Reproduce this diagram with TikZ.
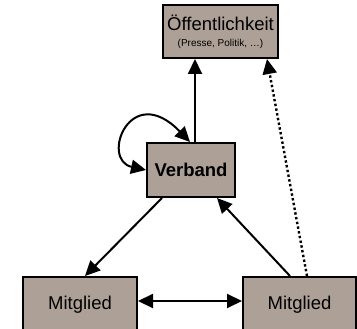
\documentclass[tikz,border=0pt]{standalone}
\usepackage{fontspec}
\setmainfont{Liberation Sans}
\usetikzlibrary{arrows.meta}
\definecolor{boxfill}{RGB}{173,160,150}
\tikzset{
  box/.style={draw=black, line width=2pt, fill=boxfill, inner sep=0pt, align=center, font=\fontsize{18.5}{20}\selectfont},
  tip/.style={Triangle[length=15pt,width=14pt]},
  conn/.style={line width=2pt, -{Triangle[length=15pt,width=14pt]}},
  dconn/.style={line width=2pt, {Triangle[length=15pt,width=14pt]}-{Triangle[length=15pt,width=14pt]}},
  dotconn/.style={line width=2.4pt, dash pattern=on 2.4pt off 2.4pt, -{Triangle[length=15pt,width=14pt]}}
}
\begin{document}
\begin{tikzpicture}[x=1pt,y=-1pt]
\useasboundingbox (0,0) rectangle (357,329);
\begin{scope}
\clip (0,0) rectangle (357,329);
\node[box, minimum width=115pt, minimum height=53pt] (oef) at (220.5,31.5) {Öffentlichkeit\\[-4pt]{\fontsize{10}{12}\selectfont (Presse, Politik, …)}};
\node[box, minimum width=88pt, minimum height=54pt, font=\fontsize{18.5}{20}\selectfont\bfseries] (verb) at (191,170) {Verband};
\node[box, minimum width=114pt, minimum height=56pt] (lm) at (80,305) {Mitglied};
\node[box, minimum width=113pt, minimum height=56pt] (rm) at (299.5,305) {Mitglied};
\draw[conn] ([xshift=4pt]verb.north) -- ([xshift=-25.5pt]oef.south);
\draw[dotconn] ([xshift=7.5pt]rm.north) -- ([xshift=46.5pt]oef.south);
\draw[conn] ([xshift=-9.5pt]rm.north) -- ([xshift=26pt]verb.south);
\draw[conn] ([xshift=-29pt]verb.south) -- ([xshift=5pt]lm.north);
\draw[dconn] ([yshift=4pt]lm.east) -- ([yshift=4pt]rm.west);
\draw[dconn] (verb.west) .. controls (100,160) and (130,80) .. ([xshift=-1pt]verb.north);
\end{scope}
\end{tikzpicture}
\end{document}
